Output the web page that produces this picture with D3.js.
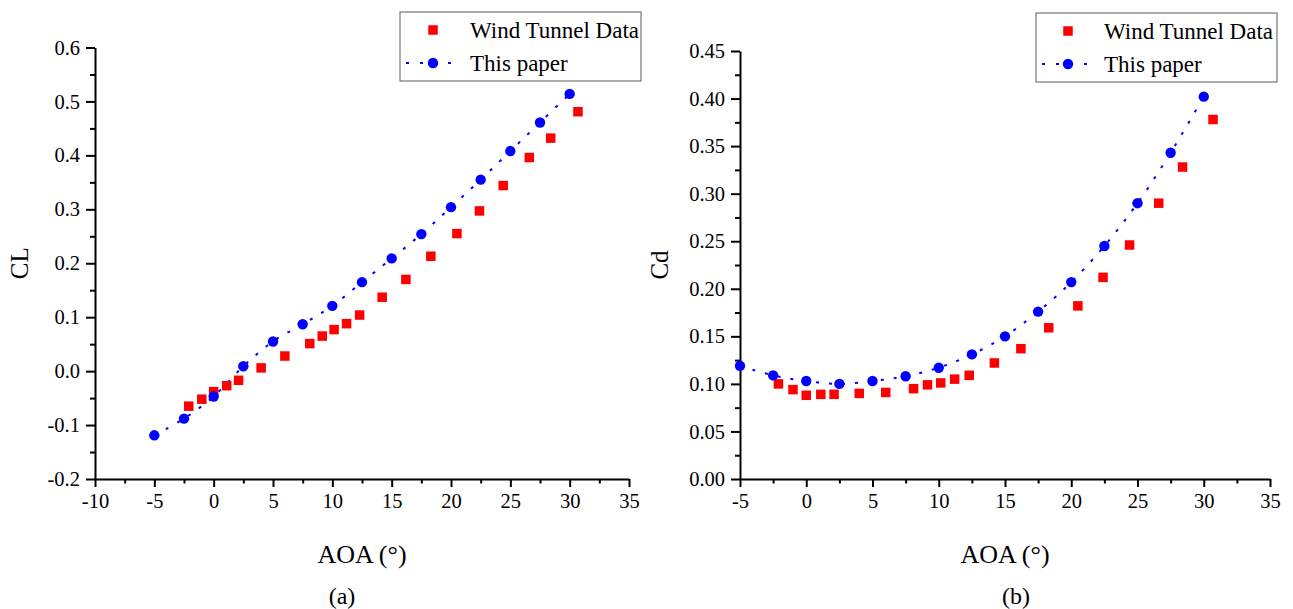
<!DOCTYPE html>
<html>
<head>
<meta charset="utf-8">
<script src="https://cdn.jsdelivr.net/npm/d3@7"></script>
<style>
  html, body { margin: 0; padding: 0; background: #fff; }
  svg { display: block; }
  svg text { font-family: "Liberation Serif", "DejaVu Serif", serif !important; fill: #000; }
</style>
</head>
<body>
<svg id="chart" width="1293" height="609"></svg>
<script>
// Angle of attack (deg) at which the model was evaluated
const aoaModel = [-5, -2.5, 0, 2.5, 5, 7.5, 10, 12.5, 15, 17.5, 20, 22.5, 25, 27.5, 30];
// Angle of attack (deg) of the wind tunnel measurements
const aoaTunnel = [-2.1, -1.0, 0.0, 1.1, 2.1, 4.0, 6.0, 8.1, 9.15, 10.15, 11.2, 12.3, 14.2, 16.2, 18.3, 20.5, 22.4, 24.4, 26.6, 28.4, 30.7];

// Lift coefficient
const clModel = [-0.119, -0.088, -0.047, 0.009, 0.055, 0.087, 0.121, 0.165, 0.209, 0.254, 0.304, 0.355, 0.408, 0.461, 0.514];
const clTunnel = [-0.065, -0.052, -0.038, -0.027, -0.017, 0.006, 0.028, 0.051, 0.065, 0.077, 0.088, 0.104, 0.137, 0.170, 0.213, 0.255, 0.297, 0.344, 0.396, 0.432, 0.481];

// Drag coefficient
const cdModel = [0.119, 0.109, 0.103, 0.100, 0.103, 0.108, 0.117, 0.131, 0.150, 0.176, 0.207, 0.245, 0.290, 0.343, 0.402];
const cdTunnel = [0.100, 0.094, 0.088, 0.089, 0.089, 0.090, 0.091, 0.095, 0.099, 0.101, 0.105, 0.109, 0.122, 0.137, 0.159, 0.182, 0.212, 0.246, 0.290, 0.328, 0.378];

// Axis ticks
const clXTicks = [-10, -5, 0, 5, 10, 15, 20, 25, 30, 35];
const clYTicks = [-0.2, -0.1, 0.0, 0.1, 0.2, 0.3, 0.4, 0.5, 0.6];
const cdXTicks = [-5, 0, 5, 10, 15, 20, 25, 30, 35];
const cdYTicks = [0.00, 0.05, 0.10, 0.15, 0.20, 0.25, 0.30, 0.35, 0.40, 0.45];

const legendLabels = ["Wind Tunnel Data", "This paper"];

const RED = "#ff0000";
const BLUE = "#0000ff";
const SERIF = '"Liberation Serif", "DejaVu Serif", serif';

const svg = d3.select("#chart");

function mids(ticks) {
  const out = [];
  for (let i = 0; i < ticks.length - 1; i++) out.push((ticks[i] + ticks[i + 1]) / 2);
  return out;
}

const hyphen = f => v => f(v).replace("\u2212", "-");

function panel(cfg) {
  const x = d3.scaleLinear().domain(cfg.xDomain).range(cfg.xRange);
  const y = d3.scaleLinear().domain(cfg.yDomain).range(cfg.yRange);
  const g = svg.append("g");

  // minor ticks
  g.append("g")
    .attr("transform", `translate(0,${cfg.yRange[0]})`)
    .call(d3.axisBottom(x).tickValues(mids(cfg.xTicks)).tickSize(4.5).tickFormat(""))
    .call(a => a.select(".domain").remove());
  g.append("g")
    .attr("transform", `translate(${cfg.xRange[0]},0)`)
    .call(d3.axisLeft(y).tickValues(mids(cfg.yTicks)).tickSize(5).tickFormat(""))
    .call(a => a.select(".domain").remove());

  // major ticks and labels
  g.append("g")
    .attr("transform", `translate(0,${cfg.yRange[0]})`)
    .call(d3.axisBottom(x).tickValues(cfg.xTicks).tickSize(8).tickSizeOuter(0).tickPadding(6)
      .tickFormat(hyphen(d3.format("d"))));
  g.append("g")
    .attr("transform", `translate(${cfg.xRange[0]},0)`)
    .call(d3.axisLeft(y).tickValues(cfg.yTicks).tickSize(9).tickSizeOuter(0).tickPadding(6)
      .tickFormat(hyphen(d3.format(cfg.yFmt))));

  g.selectAll("g").attr("font-family", SERIF);
  g.selectAll(".domain, .tick line").attr("stroke", "#000").attr("stroke-width", 2);
  g.selectAll(".tick text")
    .style("font-family", SERIF)
    .style("font-size", "20.5px")
    .attr("fill", "#000");

  // axis titles
  g.append("text")
    .attr("transform", `translate(${cfg.yTitleX},${(cfg.yRange[0] + cfg.yRange[1]) / 2}) rotate(-90)`)
    .attr("text-anchor", "middle")
    .style("font-size", "25px")
    .text(cfg.yTitle);
  g.append("text")
    .attr("x", (cfg.xRange[0] + cfg.xRange[1]) / 2)
    .attr("y", 563)
    .attr("text-anchor", "middle")
    .style("font-size", "26px")
    .text("AOA (\u00B0)");
  g.append("text")
    .attr("x", cfg.captionX)
    .attr("y", 604)
    .attr("text-anchor", "middle")
    .style("font-size", "24px")
    .text(cfg.caption);

  // model curve
  const modelPts = aoaModel.map((a, i) => [a, cfg.model[i]]);
  const line = d3.line().x(d => x(d[0])).y(d => y(d[1])).curve(d3.curveCatmullRom);
  g.append("path")
    .datum(modelPts)
    .attr("d", line)
    .attr("fill", "none")
    .attr("stroke", BLUE)
    .attr("stroke-width", 2)
    .attr("stroke-dasharray", "3,10");

  // wind tunnel squares
  const s = 9.5;
  g.selectAll("rect.tunnel")
    .data(aoaTunnel.map((a, i) => [a, cfg.tunnel[i]]))
    .join("rect")
    .attr("class", "tunnel")
    .attr("x", d => x(d[0]) - s / 2)
    .attr("y", d => y(d[1]) - s / 2)
    .attr("width", s)
    .attr("height", s)
    .attr("fill", RED);

  // model circles
  g.selectAll("circle.model")
    .data(modelPts)
    .join("circle")
    .attr("class", "model")
    .attr("cx", d => x(d[0]))
    .attr("cy", d => y(d[1]))
    .attr("r", 5.2)
    .attr("fill", BLUE);

  // legend
  const L = cfg.legend;
  const lg = g.append("g").attr("transform", `translate(${L.x},${L.y})`);
  lg.append("rect")
    .attr("x", 0).attr("y", 0)
    .attr("width", L.w).attr("height", L.h)
    .attr("fill", "#fff")
    .attr("stroke", "#777")
    .attr("stroke-width", 1.2);
  lg.append("rect")
    .attr("x", L.sym - s / 2).attr("y", 18 - s / 2)
    .attr("width", s).attr("height", s)
    .attr("fill", RED);
  lg.append("line")
    .attr("x1", 2).attr("x2", L.sym * 2 - 4)
    .attr("y1", 51).attr("y2", 51)
    .attr("stroke", BLUE).attr("stroke-width", 2)
    .attr("stroke-dasharray", "3,11")
    .attr("stroke-dashoffset", -4);
  lg.append("circle")
    .attr("cx", L.sym).attr("cy", 51).attr("r", 5.2).attr("fill", BLUE);
  lg.selectAll("text.lab")
    .data(legendLabels)
    .join("text")
    .attr("class", "lab")
    .attr("x", L.text)
    .attr("y", (d, i) => 26 + i * 33)
    .style("font-size", "23px")
    .text(d => d);
}

panel({
  xDomain: [-10, 35], xRange: [95, 629],
  yDomain: [-0.2, 0.6], yRange: [479, 47.5],
  xTicks: clXTicks, yTicks: clYTicks, yFmt: ".1f",
  model: clModel, tunnel: clTunnel,
  yTitle: "CL", yTitleX: 28,
  caption: "(a)", captionX: 342,
  legend: { x: 400, y: 12, w: 241, h: 69, sym: 33, text: 70 }
});

panel({
  xDomain: [-5, 35], xRange: [740, 1270],
  yDomain: [0, 0.45], yRange: [479, 51],
  xTicks: cdXTicks, yTicks: cdYTicks, yFmt: ".2f",
  model: cdModel, tunnel: cdTunnel,
  yTitle: "Cd", yTitleX: 668,
  caption: "(b)", captionX: 1016,
  legend: { x: 1036, y: 13, w: 241, h: 69, sym: 32, text: 68 }
});
</script>
</body>
</html>
